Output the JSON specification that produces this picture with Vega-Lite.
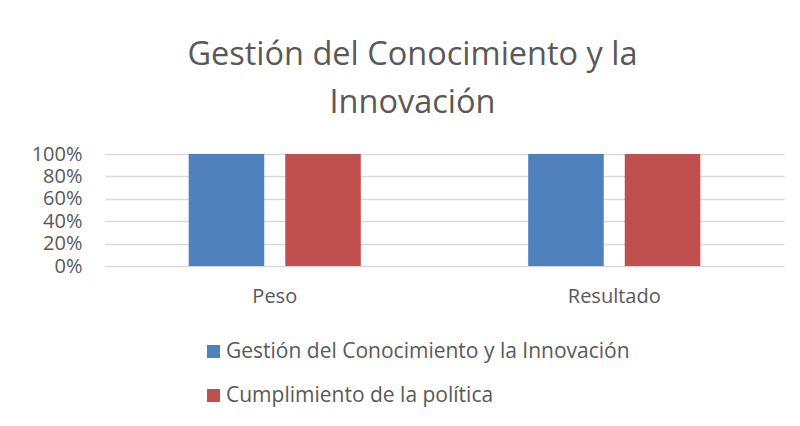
{
  "$schema": "https://vega.github.io/schema/vega-lite/v6.json",
  "width": 679,
  "height": 112,
  "autosize": "none",
  "padding": {"left": 105, "top": 154, "right": 16, "bottom": 160},
  "background": "white",
  "title": {
    "text": ["Gestión del Conocimiento y la", "Innovación"],
    "fontSize": 32.5,
    "font": "Open Sans",
    "fontWeight": "normal",
    "color": "#595959",
    "lineHeight": 48,
    "anchor": "middle",
    "dx": -32,
    "offset": 25
  },
  "data": {
    "values": [
      {"categoria": "Peso", "serie": "Gestión del Conocimiento y la Innovación", "valor": 1},
      {"categoria": "Peso", "serie": "Cumplimiento de la política", "valor": 1},
      {"categoria": "Resultado", "serie": "Gestión del Conocimiento y la Innovación", "valor": 1},
      {"categoria": "Resultado", "serie": "Cumplimiento de la política", "valor": 1}
    ]
  },
  "mark": {"type": "bar"},
  "encoding": {
    "x": {
      "field": "categoria",
      "type": "nominal",
      "sort": ["Peso", "Resultado"],
      "scale": {"paddingInner": 0.493, "paddingOuter": 0.2465},
      "axis": {
        "title": null,
        "labelAngle": 0,
        "ticks": false,
        "domain": false,
        "labelFont": "Open Sans",
        "labelFontSize": 20,
        "labelColor": "#595959",
        "labelPadding": 20
      }
    },
    "xOffset": {
      "field": "serie",
      "type": "nominal",
      "sort": ["Gestión del Conocimiento y la Innovación", "Cumplimiento de la política"],
      "scale": {"paddingInner": 0.2176, "paddingOuter": 0}
    },
    "y": {
      "field": "valor",
      "type": "quantitative",
      "scale": {"domain": [0, 1], "nice": false},
      "axis": {
        "title": null,
        "format": ".0%",
        "values": [0, 0.2, 0.4, 0.6, 0.8, 1],
        "ticks": false,
        "domain": false,
        "grid": true,
        "gridColor": "#D9D9D9",
        "gridWidth": 1.5,
        "labelFont": "Open Sans",
        "labelFontSize": 20,
        "labelColor": "#595959",
        "labelPadding": 23
      }
    },
    "color": {
      "field": "serie",
      "type": "nominal",
      "sort": ["Gestión del Conocimiento y la Innovación", "Cumplimiento de la política"],
      "scale": {"range": ["#4F81BD", "#C0504D"]},
      "legend": {
        "title": null,
        "orient": "none",
        "legendX": 98,
        "legendY": 187,
        "direction": "vertical",
        "symbolType": "square",
        "symbolSize": 169,
        "symbolStrokeWidth": 0,
        "symbolOpacity": 1,
        "labelFont": "Open Sans",
        "labelFontSize": 21,
        "labelColor": "#595959",
        "labelOffset": 2,
        "labelLimit": 600,
        "rowPadding": 22
      }
    }
  },
  "config": {
    "view": {"stroke": null}
  }
}
